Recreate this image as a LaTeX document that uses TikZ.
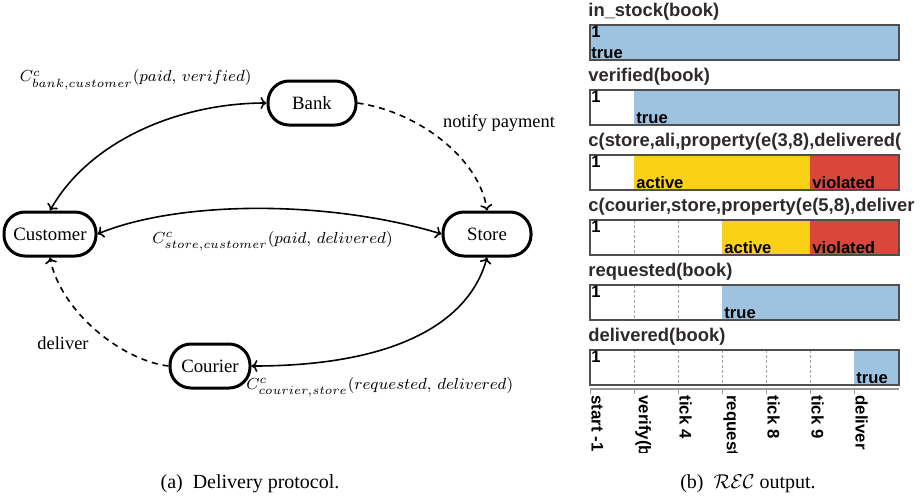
\documentclass[tikz,border=0pt]{standalone}
\usepackage{fontspec}
\setmainfont{Liberation Serif}
\newfontfamily\recfont{Liberation Sans}
\usetikzlibrary{arrows.meta}
\definecolor{recblue}{HTML}{9DC3E1}
\definecolor{recyellow}{HTML}{FAD117}
\definecolor{recred}{HTML}{D9473B}
\definecolor{recborder}{HTML}{4F4F4F}
\definecolor{rectitle}{HTML}{2E2A2C}
\tikzset{
  agent/.style={draw, line width=1.5pt, rounded corners=10.5pt, minimum height=22pt, inner xsep=2pt, font=\fontsize{9.4}{11}\selectfont},
  conn/.style={line width=0.8pt, {To[length=3pt,width=6pt]}-{To[length=3pt,width=6pt]}},
  dconn/.style={line width=0.8pt, dashed, dash pattern=on 3pt off 2.5pt, -{To[length=3pt,width=6pt]}},
  lbl/.style={inner sep=1pt, font=\fontsize{9.2}{11}\selectfont},
  mlbl/.style={inner sep=1pt, font=\fontsize{8.5}{10}\selectfont},
  rtitle/.style={anchor=west, inner sep=0pt, font=\recfont\bfseries\fontsize{9.2}{10}\selectfont, text=rectitle},
  rtext/.style={inner sep=0pt, font=\recfont\bfseries\fontsize{8.3}{9}\selectfont},
  rtick/.style={rotate=-90, anchor=south west, inner sep=0pt, font=\recfont\bfseries\fontsize{8.4}{9}\selectfont},
  rbar/.style={draw=recborder, line width=0.7pt},
  rdash/.style={draw=gray!70, line width=0.4pt, dash pattern=on 1.5pt off 1pt},
  caption/.style={font=\normalsize, inner sep=0pt}
}
\begin{document}
\begin{tikzpicture}[x=0.5pt, y=-0.5pt]
\useasboundingbox (0,0) rectangle (921,500);
% ---------- left: delivery protocol ----------
\node[agent, minimum width=46pt] (cust) at (50,234) {Customer};
\node[agent, minimum width=44pt] (bank) at (312,103) {Bank};
\node[agent, minimum width=44pt] (store) at (487,234) {Store};
\node[agent, minimum width=40pt] (cour) at (210,366) {Courier};

\draw[conn] (cust.north) .. controls (90,140) and (180,103) .. (bank.west);
\draw[dconn] (bank.east) .. controls (420,112) and (480,160) .. (store.north);
\draw[conn] (cust.east) .. controls (180,200) and (330,200) .. (store.west);
\draw[conn] (store.south) .. controls (470,320) and (400,366) .. (cour.east);
\draw[dconn] (cour.west) .. controls (120,360) and (60,310) .. (cust.south);

\node[mlbl, anchor=east] (l1) at (254,80) {$C^c_{bank,customer}(paid,\, verified)$};
\node[lbl] (l2) at (499,123) {notify payment};
\node[mlbl, anchor=west] (l3) at (150,241) {$C^c_{store,customer}(paid,\, delivered)$};
\node[mlbl, anchor=west] (l4) at (244,387) {$C^c_{courier,store}(requested,\, delivered)$};
\node[lbl] (l5) at (63,343) {deliver};

\node[caption] (capa) at (250,484) {(a)\ \ Delivery protocol.};
\node[caption] (capb) at (748,484) {(b)\ \ $\mathcal{REC}$ output.};

% ---------- right: REC output ----------
\begin{scope}
\clip (585,0) rectangle (921,500);
% titles
\node[rtitle] (t1) at (588,12) {in\_stock(book)};
\node[rtitle] (t2) at (588,77) {verified(book)};
\node[rtitle] (t3) at (588,142) {c(store,ali,property(e(3,8),delivered(};
\node[rtitle] (t4) at (588,207) {c(courier,store,property(e(5,8),deliver};
\node[rtitle] (t5) at (588,272) {requested(book)};
\node[rtitle] (t6) at (588,337) {delivered(book)};
% bars: dashed tick lines first
\foreach \top in {25,90,155,220,285,350}{
  \foreach \xx in {634,678,722,766,810,854}{
    \draw[rdash] (\xx,\top) -- (\xx,\top+35);
  }
}
% bar 1
\fill[recblue] (590,25) rectangle (899,60);
% bar 2
\fill[recblue] (634,90) rectangle (899,125);
% bar 3
\fill[recyellow] (634,155) rectangle (810,190);
\fill[recred] (810,155) rectangle (899,190);
% bar 4
\fill[recyellow] (722,220) rectangle (810,255);
\fill[recred] (810,220) rectangle (899,255);
% bar 5
\fill[recblue] (722,285) rectangle (899,320);
% bar 6
\fill[recblue] (854,350) rectangle (899,385);
% borders
\foreach \top in {25,90,155,220,285,350}{
  \draw[rbar] (590,\top) rectangle (899,\top+35);
  \node[rtext, anchor=north west] at (591,\top+1) {1};
}
% inner labels
\node[rtext, anchor=south west] at (591,59) {true};
\node[rtext, anchor=south west] at (636,124) {true};
\node[rtext, anchor=south west] at (636,189) {active};
\node[rtext, anchor=south west] at (812,189) {violated};
\node[rtext, anchor=south west] at (724,254) {active};
\node[rtext, anchor=south west] at (812,254) {violated};
\node[rtext, anchor=south west] at (724,319) {true};
\node[rtext, anchor=south west] at (856,384) {true};
% axis
\draw[draw=gray!80, line width=0.7pt] (590,389) -- (899,389);
\foreach \xx in {590,634,678,722,766,810,854}{
  \draw[draw=gray!80, line width=0.4pt] (\xx,389) -- (\xx,394);
}
\end{scope}
\begin{scope}
\clip (585,392) rectangle (921,452);
\node[rtick] (k1) at (591,395) {start -1};
\node[rtick] (k2) at (635,395) {verify(b};
\node[rtick] (k3) at (679,395) {tick 4};
\node[rtick] (k4) at (723,395) {request};
\node[rtick] (k5) at (767,395) {tick 8};
\node[rtick] (k6) at (811,395) {tick 9};
\node[rtick] (k7) at (855,395) {deliver};
\end{scope}
\end{tikzpicture}
\end{document}
